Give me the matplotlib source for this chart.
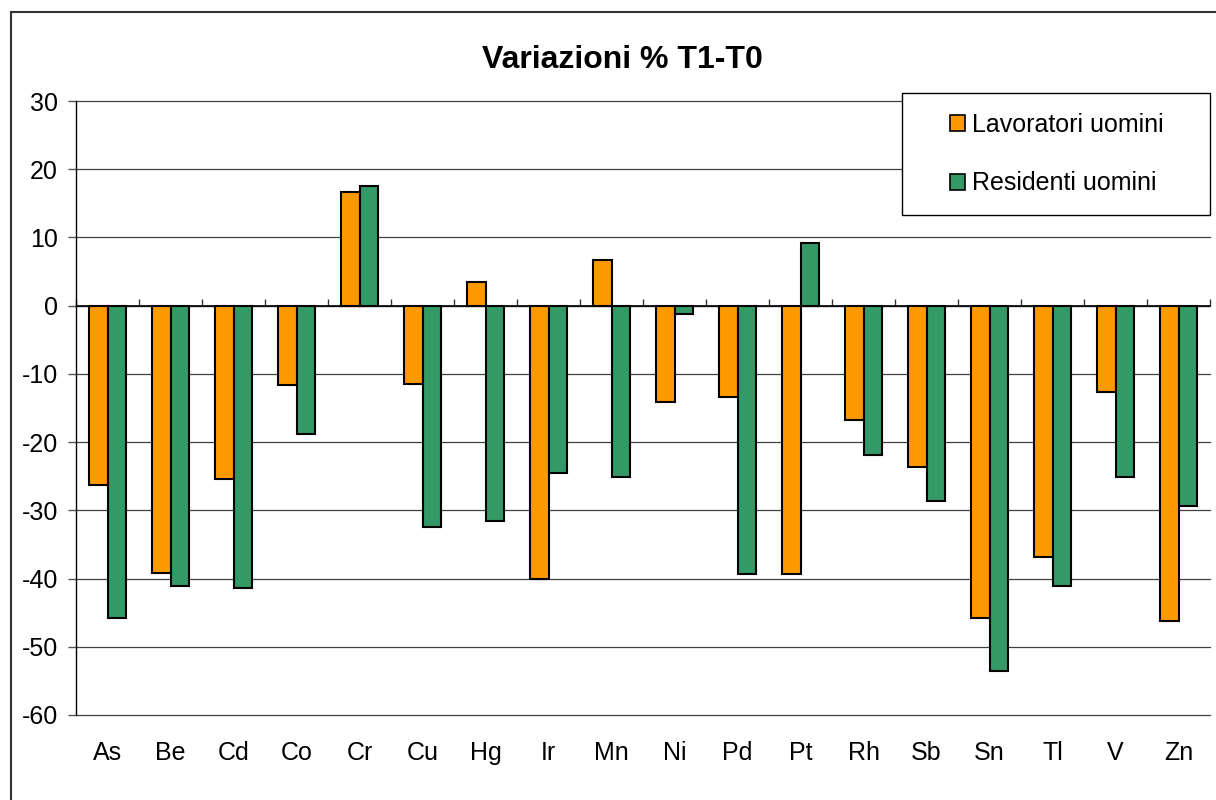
import numpy as np
import matplotlib
matplotlib.use("Agg")
import matplotlib.pyplot as plt
from matplotlib.patches import Rectangle, Patch

plt.rcParams['font.family'] = ['Liberation Sans', 'DejaVu Sans']
plt.rcParams['axes.unicode_minus'] = False

elementi = ["As", "Be", "Cd", "Co", "Cr", "Cu", "Hg", "Ir", "Mn",
            "Ni", "Pd", "Pt", "Rh", "Sb", "Sn", "Tl", "V", "Zn"]
lavoratori = [-26.3, -39.2, -25.4, -11.7, 16.6, -11.5, 3.4, -40.0, 6.7,
              -14.1, -13.4, -39.4, -16.7, -23.6, -45.8, -36.8, -12.7, -46.2]
residenti = [-45.8, -41.1, -41.4, -18.8, 17.5, -32.4, -31.6, -24.6, -25.1,
             -1.2, -39.4, 9.2, -21.9, -28.6, -53.5, -41.1, -25.1, -29.3]
yticks = [30, 20, 10, 0, -10, -20, -30, -40, -50, -60]

col_lav = "#FF9900"
col_res = "#339966"

fig = plt.figure(figsize=(12.16, 8.0), dpi=100)
ax = fig.add_axes([76/1216, 1-715/800, (1210-76)/1216, (715-101)/800])

x = np.arange(len(elementi))
w = 0.29
ax.bar(x - w/2, lavoratori, w, color=col_lav, edgecolor="black", linewidth=1.5, zorder=3)
ax.bar(x + w/2, residenti, w, color=col_res, edgecolor="black", linewidth=1.5, zorder=3)

ax.set_xlim(-0.5, len(elementi) - 0.5)
ax.set_ylim(-60, 30)
ax.set_yticks(yticks)
ax.yaxis.grid(True, color="#404040", linewidth=0.9)
for gl in ax.get_ygridlines():
    gl.set_clip_on(False)
ax.set_axisbelow(True)

for s in ["top", "right", "bottom"]:
    ax.spines[s].set_visible(False)
ax.spines["left"].set_color("black")
ax.spines["left"].set_linewidth(1.0)

ax.set_xticks(x)
ax.set_xticklabels(elementi)
ax.tick_params(axis="x", length=0, pad=19, labelsize=18)
ax.tick_params(axis="y", length=6, width=1.0, color="#555555", pad=7, labelsize=18)

# category axis line at zero, tick marks between categories
ax.axhline(0, color="black", linewidth=1.2, zorder=4)
sec = ax.secondary_xaxis((0 - (-60)) / 90)
sec.spines["bottom"].set_visible(False)
sec.set_xticks(np.arange(len(elementi) + 1) - 0.5)
sec.set_xticklabels([])
sec.tick_params(axis="x", direction="out", length=5, width=1.0, color="#333333")

fig.text(0.512, 1 - 60/800, "Variazioni % T1-T0", ha="center", va="center",
         fontsize=23, fontweight="bold")

# legend frame and entries
fig.patches.append(Rectangle((902/1216, 1-215/800), (1210-902)/1216, (215-93)/800,
                             transform=fig.transFigure, facecolor="white",
                             edgecolor="black", linewidth=1.0, zorder=5))
handles = [Patch(facecolor=col_lav, edgecolor="black", linewidth=1.2),
           Patch(facecolor=col_res, edgecolor="black", linewidth=1.2)]
leg = fig.legend(handles, ["Lavoratori uomini", "Residenti uomini"],
                 loc="center left", bbox_to_anchor=(950/1216, 1-154/800),
                 frameon=False, fontsize=18, handlelength=0.6, handleheight=0.6,
                 handletextpad=0.3, labelspacing=1.4, borderpad=0, borderaxespad=0)
leg.set_zorder(6)

# outer chart border
fig.patches.append(Rectangle((11/1216, -0.1), 1.2, 1.1 - 12/800,
                             transform=fig.transFigure, facecolor="none",
                             edgecolor="#333333", linewidth=1.5))

fig.savefig("out.png", dpi=100)
